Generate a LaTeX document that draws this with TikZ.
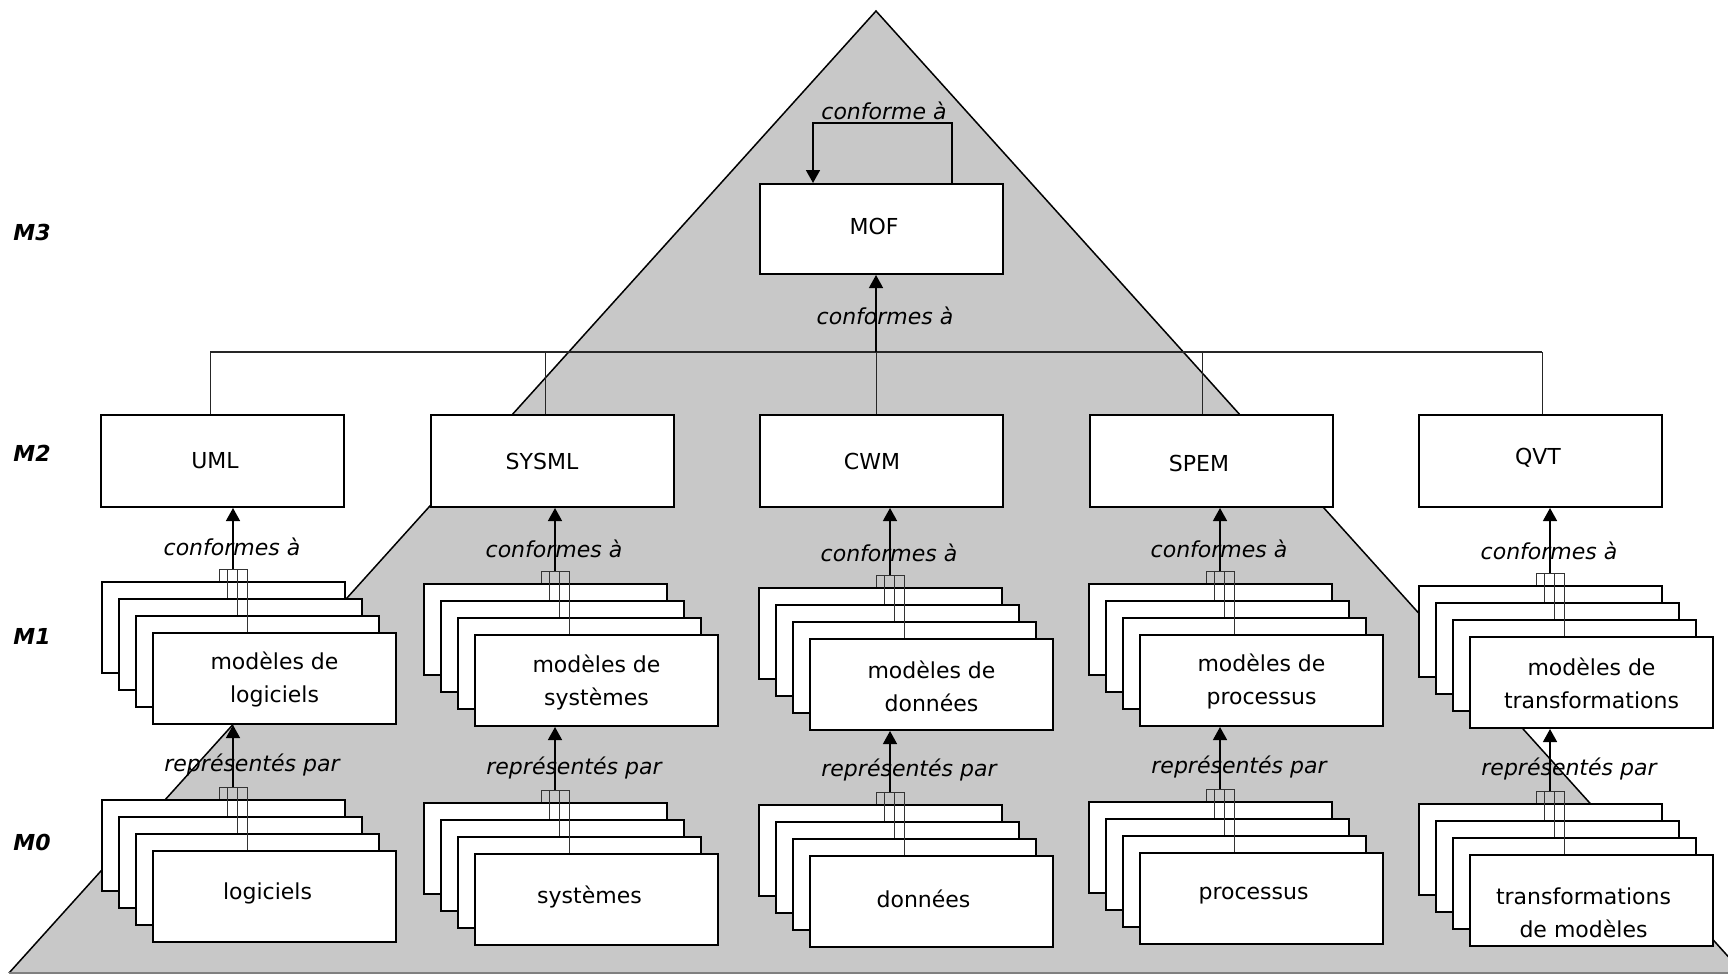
\documentclass[tikz,border=0pt]{standalone}
\usepackage{fontspec}
\setmainfont{DejaVu Sans}
\usetikzlibrary{arrows.meta,calc}
\definecolor{pyr}{RGB}{200,200,200}
\newcommand\mystack[7]{% name, x, y, text, dx, dy, label offset
  \node[sbox] (#1-1) at (#2,#3) {};
  \node[sbox] (#1-2) at (#2+17,#3+17) {};
  \node[sbox] (#1-3) at (#2+34,#3+34) {};
  \node[sbox] (#1-4) at (#2+51,#3+51) {};
  \node[txt] (#1-x) at ($(#1-4.center)+(#5,#6)$) {#4};
  \draw[fork] ($(#1-1.north west)+(118,-12)$) -- ($(#1-1.north west)+(146,-12)$);
  \draw[fork] ($(#1-1.north west)+(118,-12)$) -- ($(#1-1.north west)+(118,0)$);
  \draw[fork] ($(#1-1.north west)+(126,-12)$) -- ($(#1-2.north west)+(109,0)$);
  \draw[fork] ($(#1-1.north west)+(136,-12)$) -- ($(#1-3.north west)+(102,0)$);
  \draw[fork] ($(#1-1.north west)+(146,-12)$) -- ($(#1-4.north west)+(95,0)$);
  \coordinate (#1-t) at ($(#1-1.north west)+(132,-12)$);
  \coordinate (#1-l) at ($(#1-t)+#7$);
}
\begin{document}
\begin{tikzpicture}[x=0.5pt,y=-0.5pt,
  sbox/.style={draw,fill=white,line width=1pt,minimum width=121.5pt,minimum height=45.5pt,inner sep=0pt,anchor=north west},
  txt/.style={font=\fontsize{11}{16.5}\selectfont,align=center,inner sep=0pt},
  conn/.style={line width=0.7pt,-{Triangle[width=7pt,length=6.5pt]}},
  fork/.style={line width=0.5pt,black!80},
  stub/.style={line width=0.5pt,black!85},
  lab/.style={font=\fontsize{11}{13}\selectfont\itshape,inner sep=0pt},
  lvl/.style={font=\fontsize{11}{13}\selectfont\bfseries\itshape,inner sep=0pt},
]
\useasboundingbox (0,0) rectangle (1728,975);
\begin{scope}
\clip (0,0) rectangle (1728,975);
\fill[pyr] (9,973) -- (876,11) -- (1743,973) -- cycle;
\draw[line width=0.75pt] (9,973) -- (876,11) -- (1743,973);
\draw[line width=1pt,black!50] (9,973) -- (1728,973);
\end{scope}

% level labels
\node[lvl] (M3) at (32,232) {M3};
\node[lvl] (M2) at (32,453) {M2};
\node[lvl] (M1) at (32,636) {M1};
\node[lvl] (M0) at (32,842) {M0};

% bus
\coordinate (b1) at (210,352);
\coordinate (b2) at (545,352);
\coordinate (b3) at (876,352);
\coordinate (b4) at (1202,352);
\coordinate (b5) at (1542,352);
\draw[line width=0.8pt,black!85] (b1) -- (b5);

% M3 / M2 boxes
\node[sbox,minimum height=45pt] (mof) at (759,183) {};
\node[txt] (mof-x) at (874,226) {MOF};
\node[sbox,minimum height=46pt] (uml) at (100,414) {};
\node[sbox,minimum height=46pt] (sysml) at (430,414) {};
\node[sbox,minimum height=46pt] (cwm) at (759,414) {};
\node[sbox,minimum height=46pt] (spem) at (1089,414) {};
\node[sbox,minimum height=46pt] (qvt) at (1418,414) {};
\node[txt] (uml-x) at (215,461) {UML};
\node[txt] (sysml-x) at (542,461) {SYSML};
\node[txt] (cwm-x) at (872,461) {CWM};
\node[txt] (spem-x) at (1199,463) {SPEM};
\node[txt] (qvt-x) at (1538,458) {QVT};

\draw[stub] (b1) -- (b1 |- uml.north);
\draw[stub] (b2) -- (b2 |- sysml.north);
\draw[stub] (b3) -- (b3 |- cwm.north);
\draw[stub] (b4) -- (b4 |- spem.north);
\draw[stub] (b5) -- (b5 |- qvt.north);
\draw[conn] (b3) -- (b3 |- mof.south);
\node[lab] (l-mof) at (885,316) {conformes à};

% self loop
\coordinate (loopL) at (813,123);
\draw[conn,line width=0.8pt] ($(mof.north west)+(193,0)$) |- (loopL) -- (loopL |- mof.north);
\node[lab] (l-loop) at (884,111) {conforme à};

% M1 stacks
\mystack{a1}{101}{581}{modèles de\\logiciels}{0}{1}{(-1,-22)}
\mystack{b1s}{423}{583}{modèles de\\systèmes}{0}{2}{(-1,-22)}
\mystack{c1}{758}{587}{modèles de\\données}{0}{2}{(-1,-22)}
\mystack{d1}{1088}{583}{modèles de\\processus}{0}{1}{(-1,-22)}
\mystack{e1}{1418}{585}{modèles de\\transformations}{0}{1}{(-1,-22)}
% M0 stacks
\mystack{a0}{101}{799}{logiciels}{-7}{-3}{(19,-22)}
\mystack{b0}{423}{802}{systèmes}{-7}{-3}{(19,-22)}
\mystack{c0}{758}{804}{données}{-8}{-3}{(19,-22)}
\mystack{d0}{1088}{801}{processus}{-8}{-3}{(19,-22)}
\mystack{e0}{1418}{803}{transformations\\de modèles}{-8}{12}{(19,-22)}

% arrows and their labels
\foreach \s/\t in {a1/uml,b1s/sysml,c1/cwm,d1/spem,e1/qvt}{
  \draw[conn] (\s-t) -- (\s-t |- \t.south);
  \node[lab] at (\s-l) {conformes à};
}
\foreach \s/\t in {a0/a1,b0/b1s,c0/c1,d0/d1,e0/e1}{
  \draw[conn] (\s-t) -- (\s-t |- \t-4.south);
  \node[lab] at (\s-l) {représentés par};
}
\end{tikzpicture}
\end{document}
